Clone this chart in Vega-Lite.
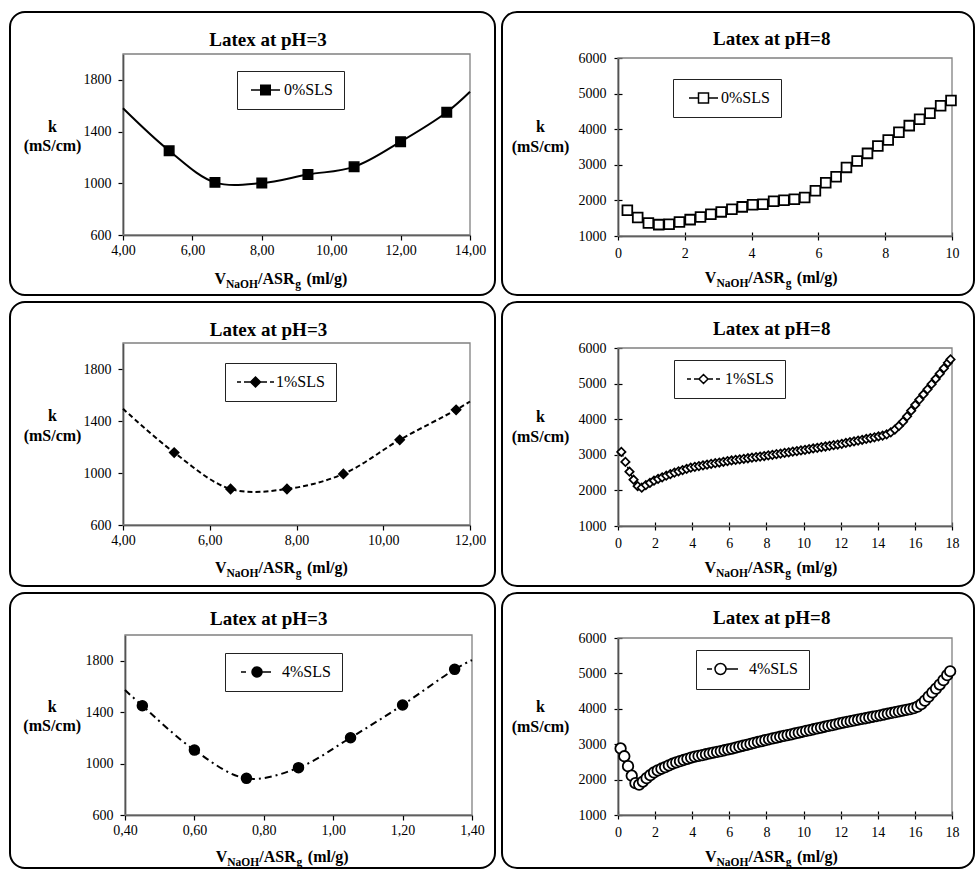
{
  "$schema": "https://vega.github.io/schema/vega-lite/v6.json",
  "padding": {"left": 9, "top": 11, "right": 0, "bottom": 0},
  "background": "white",
  "spacing": 5,
  "resolve": {"scale": {"color": "independent"}, "legend": {"color": "independent"}},
  "config": {
    "font": "Liberation Serif",
    "view": {"stroke": "black", "strokeWidth": 2, "cornerRadius": 15, "fill": "white"},
    "axis": {"grid": false, "labelFont": "Liberation Serif", "labelFontSize": 14, "labelColor": "black", "labelFlush": false, "labelOverlap": false, "domainColor": "black", "domainWidth": 1.5, "tickColor": "black", "tickWidth": 1.2, "titleFont": "Liberation Serif", "titleFontSize": 16, "titleFontWeight": "bold", "titleColor": "black", "titleBaseline": "alphabetic", "zindex": 1},
    "legend": {"orient": "none", "labelFont": "Liberation Serif", "labelFontSize": 16, "labelColor": "black", "padding": 11, "strokeColor": "#222222", "fillColor": "white", "symbolSize": 4, "symbolStrokeColor": "black"},
    "title": {"font": "Liberation Serif", "fontSize": 19, "fontWeight": "bold", "color": "black", "anchor": "middle", "frame": "group", "baseline": "alphabetic"}
  },
  "vconcat": [
    {
      "spacing": 5,
      "resolve": {"scale": {"color": "independent"}, "legend": {"color": "independent"}},
      "hconcat": [
        {
          "width": 485, "height": 283,
          "title": {"text": "Latex at pH=3", "offset": -38, "dx": 15.5},
          "data": {"values": [
            {"x": 4, "k": 1580, "m": 0}, {"x": 5.33, "k": 1252, "m": 1}, {"x": 6.65, "k": 1007, "m": 1}, {"x": 8.0, "k": 1002, "m": 1}, {"x": 9.33, "k": 1068, "m": 1}, {"x": 10.66, "k": 1127, "m": 1}, {"x": 12.0, "k": 1322, "m": 1}, {"x": 13.33, "k": 1550, "m": 1}, {"x": 14, "k": 1708, "m": 0}
          ]},
          "resolve": {"axis": {"x": "independent", "y": "independent"}},
          "layer": [
            {"data": {"values": [{}]}, "mark": {"type": "rect", "filled": false, "stroke": "#808080", "strokeWidth": 1.3},
             "encoding": {"x": {"datum": 4, "type": "quantitative", "axis": null}, "x2": {"datum": 14}, "y": {"datum": 600, "type": "quantitative", "axis": null}, "y2": {"datum": 2000}}},
            {"mark": {"type": "line", "interpolate": "catmull-rom", "color": "black", "strokeWidth": 2},
             "encoding": {
               "x": {"field": "x", "type": "quantitative", "scale": {"domain": [4, 14], "range": [113, 460], "nice": false, "zero": false},
                     "axis": {"orient": "bottom", "offset": -60, "values": [4, 6, 8, 10, 12, 14], "labelExpr": "replace(format(datum.value, '.2f'), '.', ',')", "tickSize": 5, "labelPadding": 3, "title": "V\u00a0\u00a0\u00a0\u00a0\u00a0\u00a0\u00a0\u00a0/ASR\u00a0\u00a0\u00a0(ml/g)", "titleX": 204, "titleY": 48, "titleAlign": "left"}},
               "y": {"field": "k", "type": "quantitative", "scale": {"domain": [600, 2000], "range": [223, 42], "nice": false, "zero": false},
                     "axis": {"orient": "left", "offset": -113, "values": [600, 1000, 1400, 1800], "format": "d", "tickSize": 5, "labelPadding": 7, "title": ["k", "(mS/cm)"], "titleAngle": 0, "titleAlign": "center", "titleX": -71, "titleY": 119, "titleLineHeight": 19.5}}
             }},
            {"transform": [{"filter": "datum.m == 1"}],
             "mark": {"type": "point", "shape": "square", "filled": true, "stroke": "black", "strokeWidth": 1.5, "size": 90, "opacity": 1},
             "encoding": {
               "x": {"field": "x", "type": "quantitative", "axis": {"orient": "bottom", "offset": -60, "domain": false, "ticks": false, "labels": false, "title": "NaOH\u00a0\u00a0\u00a0\u00a0\u00a0\u00a0\u00a0\u00a0\u00a0\u00a0\u00a0\u00a0\u00a0g", "titleFontSize": 11.5, "titleX": 215.5, "titleY": 52, "titleAlign": "left"}},
               "y": {"field": "k", "type": "quantitative", "axis": null},
               "color": {"datum": "0%SLS", "type": "nominal", "scale": {"range": ["black"]}, "legend": {"title": null, "legendX": 227, "legendY": 59, "symbolType": "M-5,0H24M4.75,-4.75H14.25V4.75H4.75Z", "labelOffset": 20}}
             }}
          ]
        },
        {
          "width": 472, "height": 283,
          "title": {"text": "Latex at pH=8", "offset": -36.7, "dx": 33.7},
          "data": {"values": [
            {"x": 0.28, "k": 1724}, {"x": 0.59, "k": 1517}, {"x": 0.91, "k": 1367}, {"x": 1.22, "k": 1320}, {"x": 1.53, "k": 1329}, {"x": 1.84, "k": 1395}, {"x": 2.16, "k": 1460}, {"x": 2.47, "k": 1536}, {"x": 2.78, "k": 1611}, {"x": 3.09, "k": 1677}, {"x": 3.41, "k": 1752}, {"x": 3.72, "k": 1818}, {"x": 4.03, "k": 1880}, {"x": 4.34, "k": 1893}, {"x": 4.66, "k": 1977}, {"x": 4.97, "k": 2006}, {"x": 5.28, "k": 2034}, {"x": 5.59, "k": 2081}, {"x": 5.91, "k": 2269}, {"x": 6.22, "k": 2494}, {"x": 6.53, "k": 2664}, {"x": 6.84, "k": 2927}, {"x": 7.16, "k": 3105}, {"x": 7.47, "k": 3321}, {"x": 7.78, "k": 3528}, {"x": 8.09, "k": 3697}, {"x": 8.41, "k": 3914}, {"x": 8.72, "k": 4101}, {"x": 9.03, "k": 4280}, {"x": 9.34, "k": 4449}, {"x": 9.66, "k": 4656}, {"x": 9.97, "k": 4806}
          ]},
          "resolve": {"axis": {"x": "independent", "y": "independent"}},
          "layer": [
            {"data": {"values": [{}]}, "mark": {"type": "rect", "filled": false, "stroke": "#808080", "strokeWidth": 1.3},
             "encoding": {"x": {"datum": 0, "type": "quantitative", "axis": null}, "x2": {"datum": 10}, "y": {"datum": 1000, "type": "quantitative", "axis": null}, "y2": {"datum": 6000}}},
            {"mark": {"type": "line", "color": "black", "strokeWidth": 1.5},
             "encoding": {
               "x": {"field": "x", "type": "quantitative", "scale": {"domain": [0, 10], "range": [116, 450], "nice": false, "zero": false},
                     "axis": {"orient": "bottom", "offset": -59, "values": [0, 2, 4, 6, 8, 10], "format": "d", "tickSize": 4, "labelPadding": 6, "title": "V\u00a0\u00a0\u00a0\u00a0\u00a0\u00a0\u00a0\u00a0/ASR\u00a0\u00a0\u00a0(ml/g)", "titleX": 202.3, "titleY": 46.7, "titleAlign": "left"}},
               "y": {"field": "k", "type": "quantitative", "scale": {"domain": [1000, 6000], "range": [224, 46], "nice": false, "zero": false},
                     "axis": {"orient": "left", "offset": -116, "values": [1000, 2000, 3000, 4000, 5000, 6000], "format": "d", "tickSize": 4, "labelPadding": 8, "title": ["k", "(mS/cm)"], "titleAngle": 0, "titleAlign": "center", "titleX": -78, "titleY": 119.7, "titleLineHeight": 19.5}}
             }},
            {"mark": {"type": "point", "shape": "square", "filled": true, "stroke": "black", "strokeWidth": 1.8, "size": 95, "opacity": 1},
             "encoding": {
               "x": {"field": "x", "type": "quantitative", "axis": {"orient": "bottom", "offset": -59, "domain": false, "labels": false, "ticks": true, "tickSize": -4, "values": [0, 2, 4, 6, 8, 10], "title": "NaOH\u00a0\u00a0\u00a0\u00a0\u00a0\u00a0\u00a0\u00a0\u00a0\u00a0\u00a0\u00a0\u00a0g", "titleFontSize": 11.5, "titleX": 213.9, "titleY": 50.7, "titleAlign": "left"}},
               "y": {"field": "k", "type": "quantitative", "axis": {"orient": "left", "offset": -116, "domain": false, "labels": false, "ticks": true, "tickSize": -4, "values": [1000, 2000, 3000, 4000, 5000, 6000], "title": null}},
               "color": {"datum": "0%SLS", "type": "nominal", "scale": {"range": ["white"]}, "legend": {"title": null, "legendX": 171, "legendY": 67, "symbolType": "M-3,0H6.5M16.5,0H26M6.5,-5H16.5V5H6.5Z", "labelOffset": 21}}
             }}
          ]
        }
      ]
    },
    {
      "spacing": 5,
      "resolve": {"scale": {"color": "independent"}, "legend": {"color": "independent"}},
      "hconcat": [
        {
          "width": 485, "height": 284,
          "title": {"text": "Latex at pH=3", "offset": -38, "dx": 16},
          "data": {"values": [
            {"x": 4, "k": 1494, "m": 0}, {"x": 5.18, "k": 1157, "m": 1}, {"x": 6.48, "k": 877, "m": 1}, {"x": 7.78, "k": 877, "m": 1}, {"x": 9.08, "k": 993, "m": 1}, {"x": 10.38, "k": 1255, "m": 1}, {"x": 11.68, "k": 1486, "m": 1}, {"x": 12, "k": 1550, "m": 0}
          ]},
          "resolve": {"axis": {"x": "independent", "y": "independent"}},
          "layer": [
            {"data": {"values": [{}]}, "mark": {"type": "rect", "filled": false, "stroke": "#808080", "strokeWidth": 1.3},
             "encoding": {"x": {"datum": 4, "type": "quantitative", "axis": null}, "x2": {"datum": 12}, "y": {"datum": 600, "type": "quantitative", "axis": null}, "y2": {"datum": 2000}}},
            {"mark": {"type": "line", "interpolate": "catmull-rom", "color": "black", "strokeWidth": 2, "strokeDash": [5, 3]},
             "encoding": {
               "x": {"field": "x", "type": "quantitative", "scale": {"domain": [4, 12], "range": [113, 460], "nice": false, "zero": false},
                     "axis": {"orient": "bottom", "offset": -61, "values": [4, 6, 8, 10, 12], "labelExpr": "replace(format(datum.value, '.2f'), '.', ',')", "tickSize": 5, "labelPadding": 3, "title": "V\u00a0\u00a0\u00a0\u00a0\u00a0\u00a0\u00a0\u00a0/ASR\u00a0\u00a0\u00a0(ml/g)", "titleX": 204.5, "titleY": 47.7, "titleAlign": "left"}},
               "y": {"field": "k", "type": "quantitative", "scale": {"domain": [600, 2000], "range": [223, 41], "nice": false, "zero": false},
                     "axis": {"orient": "left", "offset": -113, "values": [600, 1000, 1400, 1800], "format": "d", "tickSize": 5, "labelPadding": 7, "title": ["k", "(mS/cm)"], "titleAngle": 0, "titleAlign": "center", "titleX": -71, "titleY": 118.7, "titleLineHeight": 19.5}}
             }},
            {"transform": [{"filter": "datum.m == 1"}],
             "mark": {"type": "point", "shape": "diamond", "filled": true, "stroke": "black", "strokeWidth": 1.5, "size": 85, "opacity": 1},
             "encoding": {
               "x": {"field": "x", "type": "quantitative", "axis": {"orient": "bottom", "offset": -61, "domain": false, "ticks": false, "labels": false, "title": "NaOH\u00a0\u00a0\u00a0\u00a0\u00a0\u00a0\u00a0\u00a0\u00a0\u00a0\u00a0\u00a0\u00a0g", "titleFontSize": 11.5, "titleX": 216, "titleY": 51.7, "titleAlign": "left"}},
               "y": {"field": "k", "type": "quantitative", "axis": null},
               "color": {"datum": "1%SLS", "type": "nominal", "scale": {"range": ["black"]}, "legend": {"title": null, "legendX": 215, "legendY": 61, "symbolType": "M-7,0H-3M0,0H6.5M6.5,0L11.5,-5L16.5,0L11.5,5ZM16.5,0H23M26,0H30", "labelOffset": 24}}
             }}
          ]
        },
        {
          "width": 472, "height": 284,
          "title": {"text": "Latex at pH=8", "offset": -36.7, "dx": 33.7},
          "data": {"values": [
            {"x": 0.18, "k": 3080}, {"x": 0.40, "k": 2800}, {"x": 0.62, "k": 2525}, {"x": 0.84, "k": 2300}, {"x": 1.06, "k": 2120}, {"x": 1.28, "k": 2075}, {"x": 1.50, "k": 2150}, {"x": 1.72, "k": 2211}, {"x": 1.94, "k": 2272}, {"x": 2.16, "k": 2321}, {"x": 2.38, "k": 2366}, {"x": 2.60, "k": 2412}, {"x": 2.82, "k": 2457}, {"x": 3.04, "k": 2500}, {"x": 3.26, "k": 2535}, {"x": 3.48, "k": 2569}, {"x": 3.70, "k": 2603}, {"x": 3.92, "k": 2638}, {"x": 4.14, "k": 2663}, {"x": 4.36, "k": 2683}, {"x": 4.58, "k": 2703}, {"x": 4.80, "k": 2723}, {"x": 5.02, "k": 2743}, {"x": 5.24, "k": 2763}, {"x": 5.46, "k": 2783}, {"x": 5.68, "k": 2804}, {"x": 5.90, "k": 2824}, {"x": 6.12, "k": 2841}, {"x": 6.34, "k": 2857}, {"x": 6.56, "k": 2872}, {"x": 6.78, "k": 2888}, {"x": 7.00, "k": 2903}, {"x": 7.22, "k": 2919}, {"x": 7.44, "k": 2935}, {"x": 7.66, "k": 2950}, {"x": 7.88, "k": 2966}, {"x": 8.10, "k": 2982}, {"x": 8.32, "k": 2999}, {"x": 8.54, "k": 3017}, {"x": 8.76, "k": 3034}, {"x": 8.98, "k": 3052}, {"x": 9.20, "k": 3069}, {"x": 9.42, "k": 3087}, {"x": 9.64, "k": 3104}, {"x": 9.86, "k": 3122}, {"x": 10.08, "k": 3140}, {"x": 10.30, "k": 3159}, {"x": 10.52, "k": 3178}, {"x": 10.74, "k": 3196}, {"x": 10.96, "k": 3215}, {"x": 11.18, "k": 3233}, {"x": 11.40, "k": 3252}, {"x": 11.62, "k": 3271}, {"x": 11.84, "k": 3289}, {"x": 12.06, "k": 3309}, {"x": 12.28, "k": 3332}, {"x": 12.50, "k": 3355}, {"x": 12.72, "k": 3377}, {"x": 12.94, "k": 3400}, {"x": 13.16, "k": 3422}, {"x": 13.38, "k": 3445}, {"x": 13.60, "k": 3468}, {"x": 13.82, "k": 3490}, {"x": 14.04, "k": 3515}, {"x": 14.26, "k": 3540}, {"x": 14.48, "k": 3575}, {"x": 14.70, "k": 3630}, {"x": 14.92, "k": 3710}, {"x": 15.14, "k": 3810}, {"x": 15.36, "k": 3930}, {"x": 15.58, "k": 4080}, {"x": 15.80, "k": 4240}, {"x": 16.02, "k": 4400}, {"x": 16.24, "k": 4550}, {"x": 16.46, "k": 4695}, {"x": 16.68, "k": 4840}, {"x": 16.90, "k": 4985}, {"x": 17.12, "k": 5130}, {"x": 17.34, "k": 5280}, {"x": 17.56, "k": 5430}, {"x": 17.78, "k": 5585}, {"x": 17.92, "k": 5680}
          ]},
          "resolve": {"axis": {"x": "independent", "y": "independent"}},
          "layer": [
            {"data": {"values": [{}]}, "mark": {"type": "rect", "filled": false, "stroke": "#808080", "strokeWidth": 1.3},
             "encoding": {"x": {"datum": 0, "type": "quantitative", "axis": null}, "x2": {"datum": 18}, "y": {"datum": 1000, "type": "quantitative", "axis": null}, "y2": {"datum": 6000}}},
            {"mark": {"type": "line", "color": "black", "strokeWidth": 1.5, "strokeDash": [5, 3]},
             "encoding": {
               "x": {"field": "x", "type": "quantitative", "scale": {"domain": [0, 18], "range": [116, 450], "nice": false, "zero": false},
                     "axis": {"orient": "bottom", "offset": -60, "values": [0, 2, 4, 6, 8, 10, 12, 14, 16, 18], "format": "d", "tickSize": 4, "labelPadding": 6, "title": "V\u00a0\u00a0\u00a0\u00a0\u00a0\u00a0\u00a0\u00a0/ASR\u00a0\u00a0\u00a0(ml/g)", "titleX": 202, "titleY": 46.7, "titleAlign": "left"}},
               "y": {"field": "k", "type": "quantitative", "scale": {"domain": [1000, 6000], "range": [224, 46], "nice": false, "zero": false},
                     "axis": {"orient": "left", "offset": -116, "values": [1000, 2000, 3000, 4000, 5000, 6000], "format": "d", "tickSize": 4, "labelPadding": 8, "title": ["k", "(mS/cm)"], "titleAngle": 0, "titleAlign": "center", "titleX": -78, "titleY": 119.7, "titleLineHeight": 19.5}}
             }},
            {"mark": {"type": "point", "shape": "diamond", "filled": true, "stroke": "black", "strokeWidth": 1.7, "size": 70, "opacity": 1},
             "encoding": {
               "x": {"field": "x", "type": "quantitative", "axis": {"orient": "bottom", "offset": -60, "domain": false, "labels": false, "ticks": true, "tickSize": -4, "values": [0, 2, 4, 6, 8, 10, 12, 14, 16, 18], "title": "NaOH\u00a0\u00a0\u00a0\u00a0\u00a0\u00a0\u00a0\u00a0\u00a0\u00a0\u00a0\u00a0\u00a0g", "titleFontSize": 11.5, "titleX": 213.5, "titleY": 50.7, "titleAlign": "left"}},
               "y": {"field": "k", "type": "quantitative", "axis": {"orient": "left", "offset": -116, "domain": false, "labels": false, "ticks": true, "tickSize": -4, "values": [1000, 2000, 3000, 4000, 5000, 6000], "title": null}},
               "color": {"datum": "1%SLS", "type": "nominal", "scale": {"range": ["white"]}, "legend": {"title": null, "legendX": 172, "legendY": 58, "symbolType": "M-6,0H-2M1,0H6M6,0L10.5,-4.5L15,0L10.5,4.5ZM15,0H20M23,0H27", "labelOffset": 24}}
             }}
          ]
        }
      ]
    },
    {
      "spacing": 5,
      "resolve": {"scale": {"color": "independent"}, "legend": {"color": "independent"}},
      "hconcat": [
        {
          "width": 485, "height": 275,
          "title": {"text": "Latex at pH=3", "offset": -36, "dx": 16.2},
          "data": {"values": [
            {"x": 0.4, "k": 1572, "m": 0}, {"x": 0.45, "k": 1450, "m": 1}, {"x": 0.6, "k": 1105, "m": 1}, {"x": 0.75, "k": 885, "m": 1}, {"x": 0.9, "k": 968, "m": 1}, {"x": 1.05, "k": 1201, "m": 1}, {"x": 1.2, "k": 1456, "m": 1}, {"x": 1.35, "k": 1733, "m": 1}, {"x": 1.4, "k": 1805, "m": 0}
          ]},
          "resolve": {"axis": {"x": "independent", "y": "independent"}},
          "layer": [
            {"data": {"values": [{}]}, "mark": {"type": "rect", "filled": false, "stroke": "#808080", "strokeWidth": 1.3},
             "encoding": {"x": {"datum": 0.4, "type": "quantitative", "axis": null}, "x2": {"datum": 1.4}, "y": {"datum": 600, "type": "quantitative", "axis": null}, "y2": {"datum": 2000}}},
            {"mark": {"type": "line", "interpolate": "catmull-rom", "color": "black", "strokeWidth": 2, "strokeDash": [7, 4, 2, 4]},
             "encoding": {
               "x": {"field": "x", "type": "quantitative", "scale": {"domain": [0.4, 1.4], "range": [115, 462], "nice": false, "zero": false},
                     "axis": {"orient": "bottom", "offset": -53, "values": [0.4, 0.6, 0.8, 1.0, 1.2, 1.4], "labelExpr": "replace(format(datum.value, '.2f'), '.', ',')", "tickSize": 5, "labelPadding": 3, "title": "V\u00a0\u00a0\u00a0\u00a0\u00a0\u00a0\u00a0\u00a0/ASR\u00a0\u00a0\u00a0(ml/g)", "titleX": 205.3, "titleY": 46, "titleAlign": "left"}},
               "y": {"field": "k", "type": "quantitative", "scale": {"domain": [600, 2000], "range": [222, 42], "nice": false, "zero": false},
                     "axis": {"orient": "left", "offset": -115, "values": [600, 1000, 1400, 1800], "format": "d", "tickSize": 5, "labelPadding": 7, "title": ["k", "(mS/cm)"], "titleAngle": 0, "titleAlign": "center", "titleX": -73.3, "titleY": 118, "titleLineHeight": 19.5}}
             }},
            {"transform": [{"filter": "datum.m == 1"}],
             "mark": {"type": "point", "shape": "circle", "filled": true, "stroke": "black", "strokeWidth": 1.5, "size": 100, "opacity": 1},
             "encoding": {
               "x": {"field": "x", "type": "quantitative", "axis": {"orient": "bottom", "offset": -53, "domain": false, "ticks": false, "labels": false, "title": "NaOH\u00a0\u00a0\u00a0\u00a0\u00a0\u00a0\u00a0\u00a0\u00a0\u00a0\u00a0\u00a0\u00a0g", "titleFontSize": 11.5, "titleX": 216.8, "titleY": 50, "titleAlign": "left"}},
               "y": {"field": "k", "type": "quantitative", "axis": null},
               "color": {"datum": "4%SLS", "type": "nominal", "scale": {"range": ["black"]}, "legend": {"title": null, "legendX": 215, "legendY": 60, "symbolType": "M-3,0H2M8,0A5,5,0,1,0,18,0A5,5,0,1,0,8,0ZM18,0H27", "labelOffset": 30}}
             }}
          ]
        },
        {
          "width": 472, "height": 275,
          "title": {"text": "Latex at pH=8", "offset": -35.3, "dx": 33.7},
          "data": {"values": [
            {"x": 0.14, "k": 2880}, {"x": 0.34, "k": 2660}, {"x": 0.54, "k": 2380}, {"x": 0.74, "k": 2110}, {"x": 0.94, "k": 1900}, {"x": 1.14, "k": 1860}, {"x": 1.34, "k": 1945}, {"x": 1.54, "k": 2040}, {"x": 1.74, "k": 2125}, {"x": 1.94, "k": 2205}, {"x": 2.14, "k": 2259}, {"x": 2.34, "k": 2306}, {"x": 2.54, "k": 2353}, {"x": 2.74, "k": 2400}, {"x": 2.94, "k": 2448}, {"x": 3.14, "k": 2486}, {"x": 3.34, "k": 2520}, {"x": 3.54, "k": 2554}, {"x": 3.74, "k": 2588}, {"x": 3.94, "k": 2622}, {"x": 4.14, "k": 2648}, {"x": 4.34, "k": 2670}, {"x": 4.54, "k": 2693}, {"x": 4.74, "k": 2716}, {"x": 4.94, "k": 2738}, {"x": 5.14, "k": 2761}, {"x": 5.34, "k": 2783}, {"x": 5.54, "k": 2806}, {"x": 5.74, "k": 2829}, {"x": 5.94, "k": 2851}, {"x": 6.14, "k": 2877}, {"x": 6.34, "k": 2903}, {"x": 6.54, "k": 2930}, {"x": 6.74, "k": 2956}, {"x": 6.94, "k": 2983}, {"x": 7.14, "k": 3009}, {"x": 7.34, "k": 3036}, {"x": 7.54, "k": 3063}, {"x": 7.74, "k": 3089}, {"x": 7.94, "k": 3115}, {"x": 8.14, "k": 3139}, {"x": 8.34, "k": 3163}, {"x": 8.54, "k": 3186}, {"x": 8.74, "k": 3210}, {"x": 8.94, "k": 3233}, {"x": 9.14, "k": 3257}, {"x": 9.34, "k": 3280}, {"x": 9.54, "k": 3304}, {"x": 9.74, "k": 3327}, {"x": 9.94, "k": 3351}, {"x": 10.14, "k": 3375}, {"x": 10.34, "k": 3398}, {"x": 10.54, "k": 3422}, {"x": 10.74, "k": 3445}, {"x": 10.94, "k": 3469}, {"x": 11.14, "k": 3493}, {"x": 11.34, "k": 3516}, {"x": 11.54, "k": 3540}, {"x": 11.74, "k": 3563}, {"x": 11.94, "k": 3587}, {"x": 12.14, "k": 3609}, {"x": 12.34, "k": 3629}, {"x": 12.54, "k": 3650}, {"x": 12.74, "k": 3671}, {"x": 12.94, "k": 3692}, {"x": 13.14, "k": 3713}, {"x": 13.34, "k": 3733}, {"x": 13.54, "k": 3754}, {"x": 13.74, "k": 3775}, {"x": 13.94, "k": 3796}, {"x": 14.14, "k": 3817}, {"x": 14.34, "k": 3839}, {"x": 14.54, "k": 3861}, {"x": 14.74, "k": 3882}, {"x": 14.94, "k": 3904}, {"x": 15.14, "k": 3926}, {"x": 15.34, "k": 3948}, {"x": 15.54, "k": 3970}, {"x": 15.74, "k": 3991}, {"x": 15.94, "k": 4020}, {"x": 16.14, "k": 4060}, {"x": 16.34, "k": 4130}, {"x": 16.54, "k": 4230}, {"x": 16.74, "k": 4345}, {"x": 16.94, "k": 4460}, {"x": 17.14, "k": 4570}, {"x": 17.34, "k": 4685}, {"x": 17.54, "k": 4810}, {"x": 17.74, "k": 4950}, {"x": 17.9, "k": 5060}
          ]},
          "resolve": {"axis": {"x": "independent", "y": "independent"}},
          "layer": [
            {"data": {"values": [{}]}, "mark": {"type": "rect", "filled": false, "stroke": "#808080", "strokeWidth": 1.3},
             "encoding": {"x": {"datum": 0, "type": "quantitative", "axis": null}, "x2": {"datum": 18}, "y": {"datum": 1000, "type": "quantitative", "axis": null}, "y2": {"datum": 6000}}},
            {"mark": {"type": "line", "color": "black", "strokeWidth": 1.5},
             "encoding": {
               "x": {"field": "x", "type": "quantitative", "scale": {"domain": [0, 18], "range": [116, 450], "nice": false, "zero": false},
                     "axis": {"orient": "bottom", "offset": -53, "values": [0, 2, 4, 6, 8, 10, 12, 14, 16, 18], "format": "d", "tickSize": 4, "labelPadding": 6, "title": "V\u00a0\u00a0\u00a0\u00a0\u00a0\u00a0\u00a0\u00a0/ASR\u00a0\u00a0\u00a0(ml/g)", "titleX": 202.5, "titleY": 46, "titleAlign": "left"}},
               "y": {"field": "k", "type": "quantitative", "scale": {"domain": [1000, 6000], "range": [222, 45], "nice": false, "zero": false},
                     "axis": {"orient": "left", "offset": -116, "values": [1000, 2000, 3000, 4000, 5000, 6000], "format": "d", "tickSize": 4, "labelPadding": 8, "title": ["k", "(mS/cm)"], "titleAngle": 0, "titleAlign": "center", "titleX": -78, "titleY": 118.7, "titleLineHeight": 19.5}}
             }},
            {"mark": {"type": "point", "shape": "circle", "filled": true, "stroke": "black", "strokeWidth": 1.8, "size": 110, "opacity": 1},
             "encoding": {
               "x": {"field": "x", "type": "quantitative", "axis": {"orient": "bottom", "offset": -53, "domain": false, "labels": false, "ticks": true, "tickSize": -4, "values": [0, 2, 4, 6, 8, 10, 12, 14, 16, 18], "title": "NaOH\u00a0\u00a0\u00a0\u00a0\u00a0\u00a0\u00a0\u00a0\u00a0\u00a0\u00a0\u00a0\u00a0g", "titleFontSize": 11.5, "titleX": 214, "titleY": 50, "titleAlign": "left"}},
               "y": {"field": "k", "type": "quantitative", "axis": {"orient": "left", "offset": -116, "domain": false, "labels": false, "ticks": true, "tickSize": -4, "values": [1000, 2000, 3000, 4000, 5000, 6000], "title": null}},
               "color": {"datum": "4%SLS", "type": "nominal", "scale": {"range": ["white"]}, "legend": {"title": null, "legendX": 194, "legendY": 57, "symbolType": "M-8,0H-3M0,0A5.5,5.5,0,1,0,11,0A5.5,5.5,0,1,0,0,0ZM11,0H23", "labelOffset": 26}}
             }}
          ]
        }
      ]
    }
  ]
}
